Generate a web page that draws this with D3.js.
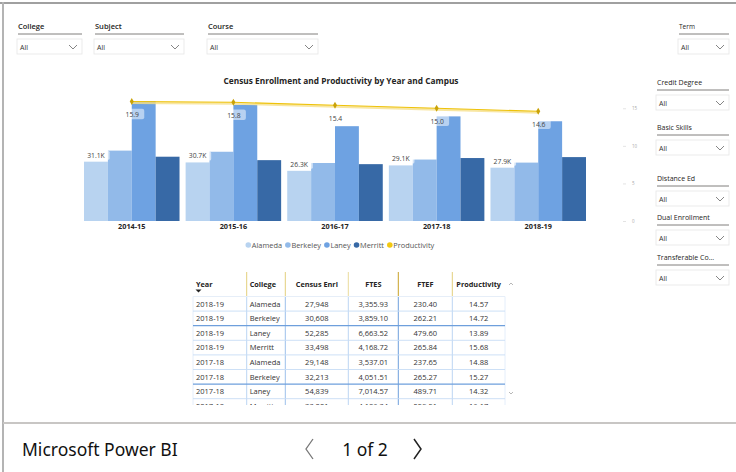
<!DOCTYPE html>
<html>
<head>
<meta charset="utf-8">
<script src="https://cdn.jsdelivr.net/npm/d3@7"></script>
<style>
  html, body { margin: 0; padding: 0; background: #fff; }
  svg { display: block; font-family: "Open Sans", "Noto Sans", sans-serif; }
</style>
</head>
<body>
<svg id="chart" width="736" height="472"></svg>
<script>
// ---------- data ----------
const years = ["2014-15", "2015-16", "2016-17", "2017-18", "2018-19"];
const colleges = ["Alameda", "Berkeley", "Laney", "Merritt"];
const alameda  = [31100, 30700, 26300, 29148, 27948];
const berkeley = [36900, 36300, 30400, 32213, 30608];
const laney    = [62900, 60900, 49700, 54839, 52285];
const merritt  = [33700, 31900, 29800, 33001, 33498];
const productivity = [15.9, 15.8, 15.4, 15.0, 14.6];
const prodTicks = [0, 5, 10, 15];

const tableColumns = ["Year", "College", "Census Enrl", "FTES", "FTEF", "Productivity"];
const tableYear    = ["2018-19", "2018-19", "2018-19", "2018-19", "2017-18", "2017-18", "2017-18", "2017-18"];
const tableCollege = ["Alameda", "Berkeley", "Laney", "Merritt", "Alameda", "Berkeley", "Laney", "Merritt"];
const tableCensus  = [27948, 30608, 52285, 33498, 29148, 32213, 54839, 33001];
const tableFTES    = [3355.93, 3859.10, 6663.52, 4168.72, 3537.01, 4051.51, 7014.57, 4186.34];
const tableFTEF    = [230.40, 262.21, 479.60, 265.84, 237.65, 265.27, 489.71, 259.51];
const tableProd    = [14.57, 14.72, 13.89, 15.68, 14.88, 15.27, 14.32, 16.17];

const topSlicers = ["College", "Subject", "Course"];
const sideSlicers = ["Credit Degree", "Basic Skills", "Distance Ed", "Dual Enrollment", "Transferable Co..."];

const colors = { Alameda: "#b8d3f0", Berkeley: "#92bae9", Laney: "#6ea2e2", Merritt: "#3769a6", Productivity: "#f2c811" };

const series = { Alameda: alameda, Berkeley: berkeley, Laney: laney, Merritt: merritt };

const svg = d3.select("#chart");

// ---------- frame ----------
svg.append("line").attr("x1", 0).attr("x2", 736).attr("y1", 3).attr("y2", 3).attr("stroke", "#a0a0a0").attr("stroke-width", 2);
svg.append("line").attr("x1", 3).attr("x2", 3).attr("y1", 2).attr("y2", 472).attr("stroke", "#b4b4b4").attr("stroke-width", 2);
svg.append("line").attr("x1", 3).attr("x2", 736).attr("y1", 423).attr("y2", 423).attr("stroke", "#c8c6c4").attr("stroke-width", 2);

// ---------- slicers ----------
function slicer(x, y, w, label, labelSize, weight) {
  const g = svg.append("g");
  g.append("text").attr("x", x + 1).attr("y", y).attr("font-size", labelSize).attr("font-weight", weight)
    .attr("fill", "#252423").text(label);
  g.append("line").attr("x1", x + 1).attr("x2", x + w).attr("y1", y + 5).attr("y2", y + 5)
    .attr("stroke", "#605e5c").attr("stroke-width", 0.8);
  g.append("rect").attr("x", x).attr("y", y + 10).attr("width", w).attr("height", 15)
    .attr("fill", "#fff").attr("stroke", "#e6e6e6").attr("stroke-width", 0.8);
  g.append("text").attr("x", x + 3).attr("y", y + 20.5).attr("font-size", 7).attr("fill", "#333").text("All");
  g.append("polyline").attr("points", `${x + w - 13},${y + 16} ${x + w - 9},${y + 20} ${x + w - 5},${y + 16}`)
    .attr("fill", "none").attr("stroke", "#666").attr("stroke-width", 0.8);
}
slicer(17, 29, 65, topSlicers[0], 7.5, 600);
slicer(94, 29, 90, topSlicers[1], 7.5, 600);
slicer(207, 29, 111, topSlicers[2], 7.5, 600);
slicer(678, 29, 51, "Term", 6.5, 400);
const sideY = [85, 130, 181, 220, 260];
sideSlicers.forEach((s, i) => slicer(656, sideY[i], 73, s, 7, 400));

// ---------- chart ----------
const x0 = d3.scaleBand().domain(years).range([84, 586]).paddingInner(0.06).paddingOuter(0);
const x1 = d3.scaleBand().domain(colleges).range([0, x0.bandwidth()]).padding(0);
const yEnr = d3.scaleLinear().domain([0, 65000]).range([221, 97]);
const yProd = d3.scaleLinear().domain([0, 16.5]).range([221, 97]);

svg.append("text").attr("x", 341).attr("y", 84).attr("text-anchor", "middle").attr("font-size", 8.3)
  .attr("font-weight", 700).attr("fill", "#252423").text("Census Enrollment and Productivity by Year and Campus");

const groups = svg.append("g").selectAll("g").data(years).join("g")
  .attr("transform", d => `translate(${x0(d)},0)`);
groups.selectAll("rect").data((d, i) => colleges.map(c => ({ c, v: series[c][i] }))).join("rect")
  .attr("x", d => x1(d.c)).attr("width", x1.bandwidth())
  .attr("y", d => yEnr(d.v)).attr("height", d => yEnr(0) - yEnr(d.v))
  .attr("fill", d => colors[d.c]);

// x axis labels
const xAxis = svg.append("g").attr("transform", "translate(0,221)")
  .call(d3.axisBottom(x0).tickSize(0).tickPadding(3));
xAxis.select(".domain").remove();
xAxis.selectAll("text").attr("font-size", 7.3).attr("font-weight", 700).attr("fill", "#252423")
  .attr("font-family", "'Open Sans', sans-serif");

// right productivity axis
const yAxis = svg.append("g").attr("transform", "translate(627,0)")
  .call(d3.axisRight(yProd).tickValues(prodTicks).tickSize(0).tickPadding(5));
yAxis.select(".domain").remove();
yAxis.selectAll("text").attr("font-size", 4.5).attr("fill", "#a8a8a8").attr("font-family", "'Open Sans', sans-serif");
yAxis.selectAll(".tick").append("line").attr("x1", -4).attr("x2", -1).attr("stroke", "#d0d0d0").attr("stroke-width", 0.6);

// enrollment labels (Alameda)
const fmtK = v => d3.format(".1f")(v / 1000) + "K";
const alaLab = svg.append("g");
years.forEach((yr, i) => {
  const cx = x0(yr) + x1("Alameda") + x1.bandwidth() / 2;
  const cy = yEnr(alameda[i]) - 6.5;
  const t = alaLab.append("text").attr("x", cx).attr("y", cy + 2.5).attr("text-anchor", "middle")
    .attr("font-size", 6.8).attr("fill", "#444").text(fmtK(alameda[i]));
  const bb = t.node().getBBox();
  alaLab.insert("rect", "text").attr("x", bb.x - 3).attr("y", cy - 4.5).attr("width", bb.width + 7).attr("height", 9)
    .attr("rx", 1.5).attr("fill", "#fff").attr("opacity", 0.6);
});

// productivity line
const lineGen = d3.line().x((d, i) => x0(years[i]) + x0.bandwidth() / 2).y(d => yProd(d));
svg.append("path").datum(productivity).attr("d", lineGen).attr("transform", "translate(0,1.2)")
  .attr("fill", "none").attr("stroke", "#f6e08a").attr("stroke-width", 2.4).attr("opacity", 0.8);
svg.append("path").datum(productivity).attr("d", lineGen)
  .attr("fill", "none").attr("stroke", "#eec20a").attr("stroke-width", 1.1);
svg.append("g").selectAll("path").data(productivity).join("path")
  .attr("d", d3.symbol(d3.symbolDiamond, 14))
  .attr("transform", (d, i) => `translate(${x0(years[i]) + x0.bandwidth() / 2},${yProd(d)})`)
  .attr("fill", "#c9a208");

const prodLab = svg.append("g");
productivity.forEach((v, i) => {
  const cx = x0(years[i]) + x0.bandwidth() / 2;
  const cy = yProd(v) + 12.8;
  prodLab.append("rect").attr("x", cx - 7.5).attr("y", cy - 5.5).attr("width", 20).attr("height", 10.5)
    .attr("rx", 2).attr("fill", "#fff").attr("opacity", 0.5);
  prodLab.append("text").attr("x", cx + 0.5).attr("y", cy + 2.5).attr("text-anchor", "middle")
    .attr("font-size", 6.8).attr("fill", "#444").text(d3.format(".1f")(v));
});

// legend
const legendItems = colleges.concat(["Productivity"]);
let lx = 248.3;
const leg = svg.append("g");
legendItems.forEach(name => {
  leg.append("circle").attr("cx", lx).attr("cy", 245).attr("r", 2.8).attr("fill", colors[name]);
  const t = leg.append("text").attr("x", lx + 3.5).attr("y", 247.6).attr("font-size", 7.4).attr("fill", "#555").text(name);
  lx += 3.5 + t.node().getComputedTextLength() + 5.8;
});

// ---------- table ----------
const colEdges = [193, 246.7, 285.3, 348.3, 398.3, 452.3, 505];
const colAlign = ["start", "start", "middle", "middle", "middle", "middle"];
const tbl = svg.append("g");
svg.append("clipPath").attr("id", "tclip").append("rect").attr("x", 180).attr("y", 268).attr("width", 340).attr("height", 137);
const tg = tbl.append("g").attr("clip-path", "url(#tclip)");
const rowY0 = 296.5, rowH = 14.6;
const fmtInt = d3.format(",");
const fmt2 = d3.format(",.2f");
const rowsData = tableYear.map((y, i) => [y, tableCollege[i], fmtInt(tableCensus[i]), fmt2(tableFTES[i]), fmt2(tableFTEF[i]), fmt2(tableProd[i])]);

function colX(j) {
  return colAlign[j] === "start" ? colEdges[j] + 3 : (colEdges[j] + colEdges[j + 1]) / 2;
}
// header
tableColumns.forEach((c, j) => {
  tg.append("text").attr("x", colX(j)).attr("y", 287).attr("text-anchor", colAlign[j])
    .attr("font-size", 7.3).attr("font-weight", 700).attr("fill", "#252423").text(c);
});
tg.append("path").attr("d", "M195.5,289.5 L201.5,289.5 L198.5,292.5 Z").attr("fill", "#252423");
// header separators
const hdrSepColors = ["#e3cf7c", "#e3cf7c", "#eadb9c", "#c9a227", "#e3cf7c"];
colEdges.slice(1, 6).forEach((x, k) => {
  tg.append("line").attr("x1", x).attr("x2", x).attr("y1", 272).attr("y2", rowY0).attr("stroke", hdrSepColors[k]).attr("stroke-width", 1);
});
// body separators
const bodySepColors = ["#bcd5f3", "#9dc0ec", "#bcd5f3", "#6e9fdc", "#bcd5f3"];
colEdges.forEach((x, k) => {
  const col = k === 0 || k === 6 ? "#e4eefb" : bodySepColors[k - 1];
  tg.append("line").attr("x1", x).attr("x2", x).attr("y1", rowY0).attr("y2", 410).attr("stroke", col).attr("stroke-width", 1);
});
tg.append("line").attr("x1", 193).attr("x2", 505).attr("y1", rowY0).attr("y2", rowY0).attr("stroke", "#e6eef8").attr("stroke-width", 1);
rowsData.forEach((r, i) => {
  const ty = rowY0 + i * rowH;
  r.forEach((v, j) => {
    tg.append("text").attr("x", colX(j)).attr("y", ty + 10).attr("text-anchor", colAlign[j])
      .attr("font-size", 7.5).attr("fill", "#333").text(v);
  });
  const strong = (i === 1 || i === 5);
  tg.append("line").attr("x1", 193).attr("x2", 505).attr("y1", ty + rowH).attr("y2", ty + rowH)
    .attr("stroke", strong ? "#6e9fdc" : "#c7dcf5").attr("stroke-width", strong ? 1.3 : 0.9);
});
// scroll arrows
svg.append("polyline").attr("points", "509,285 511,283 513,285").attr("fill", "none").attr("stroke", "#888").attr("stroke-width", 0.6);
svg.append("polyline").attr("points", "509,392 511,394 513,392").attr("fill", "none").attr("stroke", "#888").attr("stroke-width", 0.6);

// ---------- footer ----------
svg.append("text").attr("x", 22).attr("y", 456).attr("font-size", 17.5).attr("fill", "#111")
  .attr("font-family", "'Noto Sans', 'Open Sans', sans-serif").text("Microsoft Power BI");
svg.append("polyline").attr("points", "313,439 306,449 313,459").attr("fill", "none").attr("stroke", "#777").attr("stroke-width", 1.3);
svg.append("text").attr("x", 365).attr("y", 456).attr("text-anchor", "middle").attr("font-size", 17.5).attr("fill", "#111")
  .attr("font-family", "'Noto Sans', 'Open Sans', sans-serif").text("1 of 2");
svg.append("polyline").attr("points", "414,439 421,449 414,459").attr("fill", "none").attr("stroke", "#222").attr("stroke-width", 1.5);
</script>
</body>
</html>
